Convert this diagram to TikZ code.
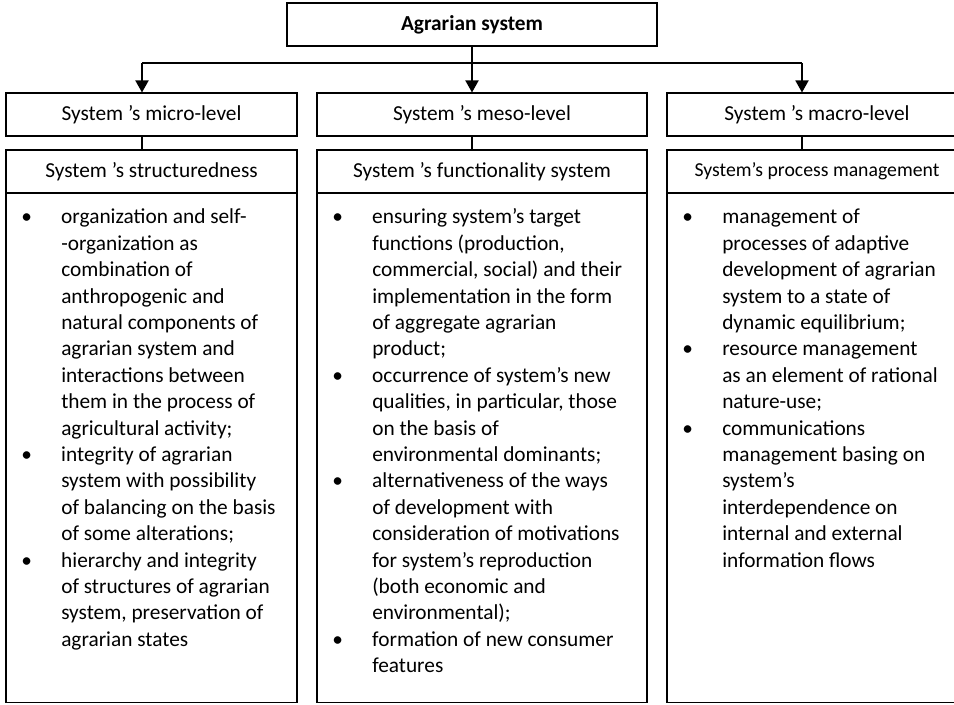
\documentclass[tikz,border=0pt]{standalone}
\usepackage{fontspec}
\setmainfont{Carlito}
\usetikzlibrary{arrows.meta}

\tikzset{
    box/.style = {draw, line width = 0.8pt, inner sep = 0, minimum height = 32.25pt},
    conn/.style = {line width = 1.4pt},
    arr/.style = {conn, -{Triangle[length = 9pt, width = 9.75pt]}},
    items/.style = {anchor = base west, inner sep = 0}
}

\begin{document}
\begin{tikzpicture}[x = 0.75pt, y = -0.75pt, font = \fontsize{16}{19.8}\selectfont]
    \useasboundingbox (0, 0) rectangle (954, 705);
    \clip (0, 0) rectangle (954, 705);

    \node [box, minimum width = 277.5pt, font = \fontsize{16}{19.8}\selectfont\bfseries] (agr) at (472, 24.5) {Agrarian system};

    \foreach \l/\w/\lvl/\sub [count = \i] in {6/291/{System ’s micro-level}/{System ’s structuredness},
            317/330/{System ’s meso-level}/{System ’s functionality system},
            667/300/{System ’s macro-level}/{{\fontsize{14.8}{18}\selectfont System’s process management}}} {
        \node [box, minimum width = {0.75pt*\w}] (lvl\i) at (\l + \w/2, 114.5) {\lvl};
        \node [box, minimum width = {0.75pt*\w}] (sub\i) at (\l + \w/2, 171.5) {\sub};
        \node [box, minimum width = {0.75pt*\w}, minimum height = 381.75pt, anchor = north] (cont\i) at (\l + \w/2, 193) {};
    }

    % connectors
    \coordinate (fork1) at (142, 63);
    \coordinate (fork2) at (472, 63);
    \coordinate (fork3) at (802, 63);
    \draw [conn] (agr.south) -- (fork2);
    \draw [conn] (fork1) -- (fork3);
    \foreach \i in {1, 2, 3} {
        \draw [arr] (fork\i) -- (fork\i |- lvl\i.north);
        \draw [conn] (fork\i |- lvl\i.south) -- (fork\i |- sub\i.north);
    }

    % lists
    \node [items] (list1) at (21, 224) {\begin{tabular}[t]{@{}p{30pt}@{}l@{}}
        \textbullet & organization and self-\\
        & -organization as\\
        & combination of\\
        & anthropogenic and\\
        & natural components of\\
        & agrarian system and\\
        & interactions between\\
        & them in the process of\\
        & agricultural activity;\\
        \textbullet & integrity of agrarian\\
        & system with possibility\\
        & of balancing on the basis\\
        & of some alterations;\\
        \textbullet & hierarchy and integrity\\
        & of structures of agrarian\\
        & system, preservation of\\
        & agrarian states
    \end{tabular}};
    \node [items] (list2) at (332, 224) {\begin{tabular}[t]{@{}p{30pt}@{}l@{}}
        \textbullet & ensuring system’s target\\
        & functions (production,\\
        & commercial, social) and their\\
        & implementation in the form\\
        & of aggregate agrarian\\
        & product;\\
        \textbullet & occurrence of system’s new\\
        & qualities, in particular, those\\
        & on the basis of\\
        & environmental dominants;\\
        \textbullet & alternativeness of the ways\\
        & of development with\\
        & consideration of motivations\\
        & for system’s reproduction\\
        & (both economic and\\
        & environmental);\\
        \textbullet & formation of new consumer\\
        & features
    \end{tabular}};
    \node [items] (list3) at (682, 224) {\begin{tabular}[t]{@{}p{30pt}@{}l@{}}
        \textbullet & management of\\
        & processes of adaptive\\
        & development of agrarian\\
        & system to a state of\\
        & dynamic equilibrium;\\
        \textbullet & resource management\\
        & as an element of rational\\
        & nature-use;\\
        \textbullet & communications\\
        & management basing on\\
        & system’s\\
        & interdependence on\\
        & internal and external\\
        & information flows
    \end{tabular}};
\end{tikzpicture}
\end{document}
